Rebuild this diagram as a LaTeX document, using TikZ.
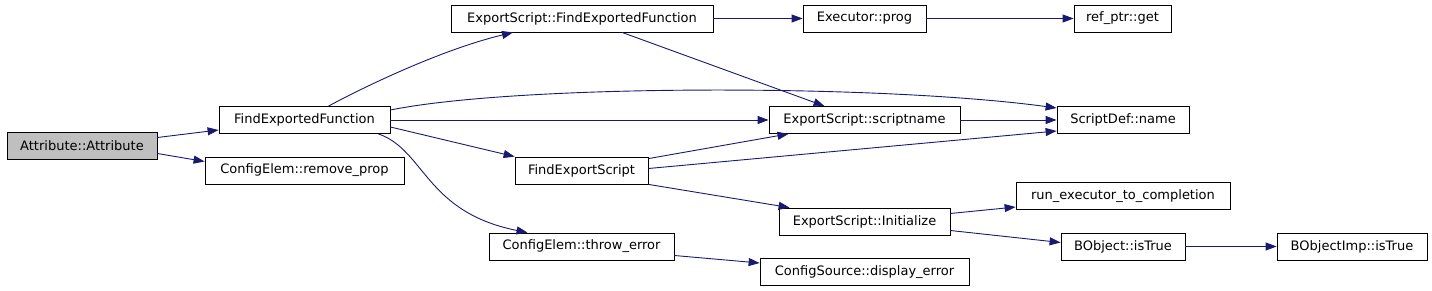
\documentclass[tikz,border=0pt]{standalone}
\usepackage{fontspec}
\setmainfont{DejaVu Sans}
\usetikzlibrary{arrows.meta}
\definecolor{callblue}{RGB}{25,25,112}
\definecolor{rootgray}{RGB}{191,191,191}
\tikzstyle{fn}=[shape=rectangle, draw=black, line width=0.8pt, minimum height=27pt, inner sep=0, font=\fontsize{13}{15}\selectfont]
\tikzstyle{call}=[draw=callblue, line width=0.9pt, -{Triangle[length=11pt, width=8pt]}]

\begin{document}
\begin{tikzpicture}[x=1pt, y=-1pt]
\useasboundingbox (0,0) rectangle (1432,291);
\node at (82,145.5)[fn, fill=rootgray, minimum width=150](0){Attribute::Attribute};
\node at (304.5,120)[fn, minimum width=171](1){FindExportedFunction};
\node at (304.5,170.5)[fn, minimum width=199](2){ConfigElem::remove\_prop};
\node at (582,18.5)[fn, minimum width=262](3){ExportScript::FindExportedFunction};
\node at (864.5,18.5)[fn, minimum width=123](4){Executor::prog};
\node at (1122.5,18.5)[fn, minimum width=97](5){ref\_ptr::get};
\node at (864.5,120)[fn, minimum width=191](6){ExportScript::scriptname};
\node at (1123,120)[fn, minimum width=132](7){ScriptDef::name};
\node at (581.5,170.5)[fn, minimum width=133](8){FindExportScript};
\node at (864.5,221.5)[fn, minimum width=171](9){ExportScript::Initialize};
\node at (1123,196)[fn, minimum width=214](10){run\_executor\_to\_completion};
\node at (1123,246.5)[fn, minimum width=124](11){BObject::isTrue};
\node at (1352,246.5)[fn, minimum width=150](12){BObjectImp::isTrue};
\node at (581.5,246.5)[fn, minimum width=185](13){ConfigElem::throw\_error};
\node at (864.5,272)[fn, minimum width=209](14){ConfigSource::display\_error};
\draw[call] ([yshift=8pt]0.east)--([yshift=-10pt]1.west);
\draw[call] ([yshift=-8pt]0.east)--([yshift=9pt]2.west);
\draw[call] ([xshift=24pt]1.north) .. controls (362,88) and (440,50) .. ([xshift=-69pt]3.south);
\draw[call] ([yshift=10pt]1.east) .. controls (520,84) and (880,84) .. ([yshift=12pt]7.west);
\draw[call] (1.east)--(6.west);
\draw[call] ([yshift=-7pt]1.east)--(8.north west);
\draw[call] ([xshift=-12pt]1.south east) .. controls (425,150) and (425,212) .. ([xshift=-54pt]13.north);
\draw[call] (3.east)--(4.west);
\draw[call] ([xshift=40pt]3.south)--([xshift=-40pt]6.north);
\draw[call] (4.east)--(5.west);
\draw[call] (6.east)--(7.west);
\draw[call] ([yshift=-2pt]8.north east)--([xshift=-76pt]6.south);
\draw[call] ([yshift=2pt]8.east)--([yshift=-11pt]7.west);
\draw[call] (8.south east)--([xshift=11pt]9.north west);
\draw[call] ([yshift=8pt]9.east)--([yshift=-11pt]10.west);
\draw[call] ([yshift=-9pt]9.east)--([yshift=4pt]11.west);
\draw[call] (11.east)--(12.west);
\draw[call] ([yshift=-9pt]13.east)--([yshift=9pt]14.west);
\end{tikzpicture}
\end{document}
